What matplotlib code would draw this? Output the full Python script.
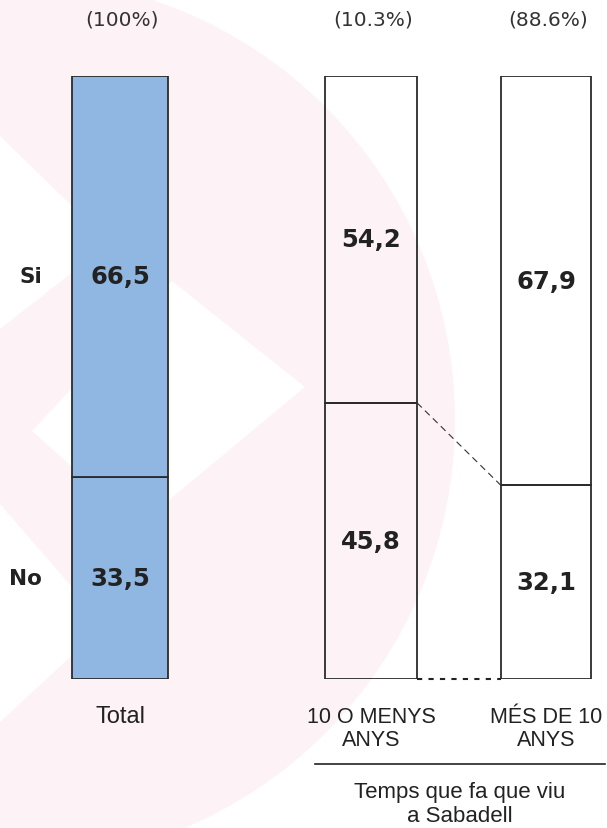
import matplotlib.pyplot as plt
from matplotlib.patches import Circle, Polygon

groups = ['Total', '10 O MENYS\nANYS', 'MÉS DE 10\nANYS']
shares = ['(100%)', '(10.3%)', '(88.6%)']
answers = ['Si', 'No']
si = [66.5, 54.2, 67.9]
no = [33.5, 45.8, 32.1]
group_title = 'Temps que fa que viu\na Sabadell'

centers = [120, 371, 546]   # bar centres, px
widths = [96, 92, 90]
fills = ['#8fb7e1', 'none', 'none']
edge = '#2b2b2b'

fig = plt.figure(figsize=(6.07, 8.29), dpi=100)

# faint watermark behind the chart
bg = fig.add_axes([0, 0, 1, 1], zorder=-1)
bg.set_xlim(0, 607)
bg.set_ylim(829, 0)
bg.axis('off')
pink = '#fdf2f6'
bg.add_patch(Circle((12, 421), 443, color=pink, lw=0))
for pts in [[(0, 137), (110, 244), (0, 330)],
            [(32, 432), (172, 282), (305, 388), (138, 527)],
            [(0, 505), (105, 626), (0, 723)]]:
    bg.add_patch(Polygon(pts, closed=True, color='white', lw=0))

ax = fig.add_axes([0, 149 / 829, 1, 603 / 829])
ax.set_xlim(0, 607)
ax.set_ylim(0, 100)
ax.axis('off')

ax.bar(centers, no, width=widths, color=fills, edgecolor=edge, linewidth=1.3)
ax.bar(centers, si, bottom=no, width=widths, color=fills, edgecolor=edge, linewidth=1.3)

for x, s, n, sh in zip(centers, si, no, shares):
    ax.text(x, n + s / 2, f'{s:.1f}'.replace('.', ','), ha='center', va='center',
            fontsize=17.5, fontweight='bold', color='#222222')
    ax.text(x, n / 2, f'{n:.1f}'.replace('.', ','), ha='center', va='center',
            fontsize=17.5, fontweight='bold', color='#222222')
    ax.text(x + 2, 109.4, sh, ha='center', va='center', fontsize=14.5, color='#333333')

# row labels next to the total bar
ax.text(42, no[0] + si[0] / 2, answers[0], ha='right', va='center',
        fontsize=15.5, fontweight='bold', color='#222222')
ax.text(42, no[0] / 2, answers[1], ha='right', va='center',
        fontsize=15.5, fontweight='bold', color='#222222')

# category labels
ax.text(centers[0], -6.1, groups[0], ha='center', va='center', fontsize=17,
        family='Liberation Sans', color='#222222', clip_on=False)
for x, g in zip(centers[1:], groups[1:]):
    ax.text(x, -8.1, g, ha='center', va='center', fontsize=15.5, linespacing=1.1,
            family='Liberation Sans', color='#222222', clip_on=False)

ax.plot([315, 605], [-14.1, -14.1], color='#222222', lw=1.2, clip_on=False)
ax.text(460, -20.6, group_title, ha='center', va='center', fontsize=16,
        family='Liberation Sans', color='#222222', clip_on=False)

# connectors between the two sub-group bars
x_r = centers[1] + widths[1] / 2
x_l = centers[2] - widths[2] / 2
ax.plot([x_r, x_l], [no[1], no[2]], color='#333333', lw=0.8, ls=(0, (6, 4)))
ax.plot([x_r, x_l], [0, 0], color='#222222', lw=1.5, ls=(0, (2.5, 3)), clip_on=False)

fig.savefig('out.png', dpi=100)
